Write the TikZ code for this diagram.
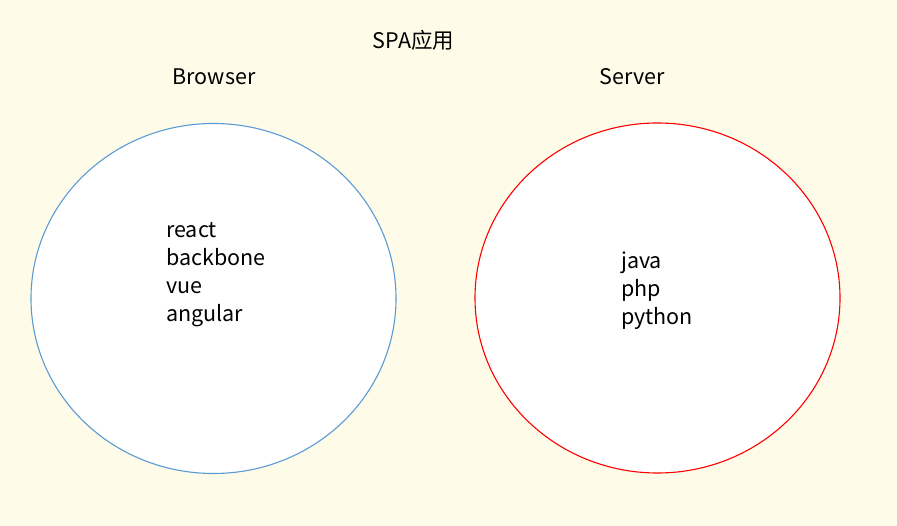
\documentclass[tikz,border=0pt]{standalone}
\usepackage{fontspec}
\setmainfont{Noto Sans CJK SC}
\usepackage{xcolor}
\usepackage{tikz}
\usetikzlibrary{shapes.geometric, positioning}
\definecolor{paper}{RGB}{254,251,233}
\definecolor{browserblue}{RGB}{91,155,213}

\begin{document}
\begin{tikzpicture}[x=1pt, y=-1pt,
        side/.style={ellipse, draw, line width=1.1pt, fill=white, minimum width=365pt, minimum height=350pt, inner sep=0pt},
        caption/.style={font=\fontsize{21.5}{28}\selectfont, inner sep=0pt},
        items/.style={caption, align=left, anchor=west}]
        \fill[paper] (0,0) rectangle (897,526);
        \useasboundingbox (0,0) rectangle (897,526);

        \node[side, draw=browserblue] (browser) at (213.5,298.5) {};
        \node[side, draw=red]         (server)  at (657.5,298) {};

        \node[caption] (title) at (413.5,40) {SPA应用};
        \node[caption] (b) at (214,77) {Browser};
        \node[caption] (s) at (632,77) {Server};

        \node[items] (front) at (166,274.5) {react\\backbone\\vue\\angular};
        \node[items] (back)  at (621,291) {java\\php\\python};
\end{tikzpicture}
\end{document}
